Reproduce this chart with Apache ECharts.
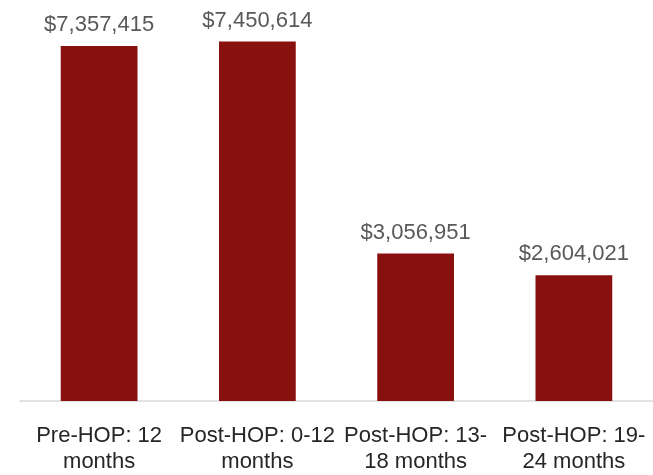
<!DOCTYPE html>
<html>
<head>
<meta charset="utf-8">
<script src="https://cdn.jsdelivr.net/npm/echarts@6/dist/echarts.min.js"></script>
<style>
  html, body { margin: 0; padding: 0; background: #fff; }
  #chart { width: 653px; height: 475px; }
</style>
</head>
<body>
<div id="chart"></div>
<script>
// Cost per period, before and after the HOP program
const categories = [
  'Pre-HOP: 12\nmonths',
  'Post-HOP: 0-12\nmonths',
  'Post-HOP: 13-\n18 months',
  'Post-HOP: 19-\n24 months'
];
const costs = [7357415, 7450614, 3056951, 2604021];

const fmtMoney = v => '$' + v.toLocaleString('en-US');

const chart = echarts.init(document.getElementById('chart'), null, { renderer: 'canvas' });
chart.setOption({
  animation: false,
  grid: { left: 20, right: 0, top: 15, bottom: 72 },
  xAxis: {
    type: 'category',
    data: categories,
    axisLine: { lineStyle: { color: '#d9d9d9', width: 1.5 } },
    axisTick: { show: false },
    axisLabel: {
      interval: 0,
      margin: 22,
      fontFamily: 'Liberation Sans, Arial, sans-serif',
      fontSize: 22,
      lineHeight: 26,
      color: '#262626'
    }
  },
  yAxis: {
    type: 'value',
    min: 0,
    max: 8000000,
    show: false,
    splitLine: { show: false }
  },
  series: [{
    type: 'bar',
    data: costs,
    barWidth: '48.5%',
    itemStyle: { color: '#88100e' },
    label: {
      show: true,
      position: 'top',
      distance: 10,
      formatter: p => fmtMoney(p.value),
      fontFamily: 'Liberation Sans, Arial, sans-serif',
      fontSize: 22,
      color: '#595959'
    }
  }]
});
</script>
</body>
</html>
